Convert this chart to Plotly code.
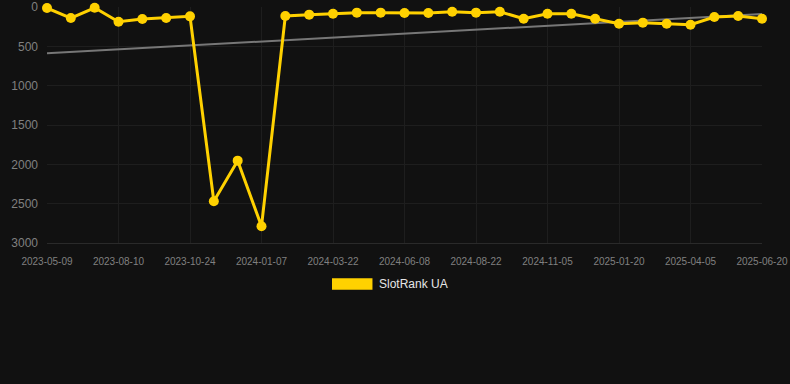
import plotly.graph_objects as go

dates = [
    "2023-05-09", "2023-06-09", "2023-07-10", "2023-08-10", "2023-09-04", "2023-09-29",
    "2023-10-24", "2023-11-18", "2023-12-13", "2024-01-07", "2024-02-01", "2024-02-26",
    "2024-03-22", "2024-04-17", "2024-05-13", "2024-06-08", "2024-07-03", "2024-07-28",
    "2024-08-22", "2024-09-16", "2024-10-11", "2024-11-05", "2024-11-30", "2024-12-25",
    "2025-01-20", "2025-02-13", "2025-03-10", "2025-04-05", "2025-04-30", "2025-05-25",
    "2025-06-20",
]
ranks = [
    13, 140, 10, 187, 153, 140, 119, 2470, 1953, 2788,
    114, 97, 85, 72, 72, 76, 76, 60, 72, 60,
    149, 85, 85, 149, 212, 199, 212, 225, 127, 115,
    149,
]
tick_labels = dates[::3]
trend_x = [dates[0], dates[-1]]
trend_y = [589, 89]
y_ticks = [0, 500, 1000, 1500, 2000, 2500, 3000]
series_name = "SlotRank UA"

gold = "#FFD100"

fig = go.Figure()
fig.add_trace(go.Scatter(
    x=trend_x, y=trend_y, mode="lines",
    line=dict(color="#777777", width=2),
    showlegend=False, hoverinfo="skip", cliponaxis=False,
))
fig.add_trace(go.Scatter(
    x=dates, y=ranks, mode="lines+markers", name=series_name,
    line=dict(color=gold, width=3),
    marker=dict(color=gold, size=10),
    showlegend=False, cliponaxis=False,
))

# legend drawn as swatch + label
fig.add_shape(type="rect", xref="paper", yref="paper",
              x0=0.3986, x1=0.4552, y0=-0.1979, y1=-0.1496,
              fillcolor=gold, line=dict(width=0))
fig.add_annotation(text=series_name, xref="paper", yref="paper",
                   x=0.4615, y=-0.1737, xanchor="left", yanchor="middle",
                   showarrow=False, font=dict(color="#e6e6e6", size=12,
                                              family="Liberation Sans, Arial, sans-serif"))

fig.update_layout(
    width=790, height=384,
    margin=dict(l=47, r=28, t=7, b=141, autoexpand=False),
    paper_bgcolor="#111111", plot_bgcolor="#111111",
    font=dict(family="Liberation Sans, Arial, sans-serif", color="#808080"),
    showlegend=False,
)
fig.update_xaxes(
    type="category", categoryorder="array", categoryarray=dates,
    range=[0, len(dates) - 1],
    tickmode="array", tickvals=tick_labels, ticktext=tick_labels,
    tickfont=dict(size=10, color="#808080"),
    showgrid=True, gridcolor="#1e1e1e", gridwidth=1,
    zeroline=False, showline=True, linecolor="#2a2a2a", linewidth=1,
    ticks="", ticklen=0,
    ticklabelstandoff=9, automargin=False,
)
fig.update_yaxes(
    range=[3000, 0], tickmode="array", tickvals=y_ticks,
    tickfont=dict(size=12, color="#808080"),
    showgrid=True, gridcolor="#1e1e1e", gridwidth=1,
    zeroline=False, showline=False, ticks="", ticklen=0,
    ticklabelstandoff=8, automargin=False,
)

fig.write_html(
    "out.html",
    config={"displayModeBar": False},
    post_script="document.body.style.margin='0';document.body.style.background='#111111';",
)
